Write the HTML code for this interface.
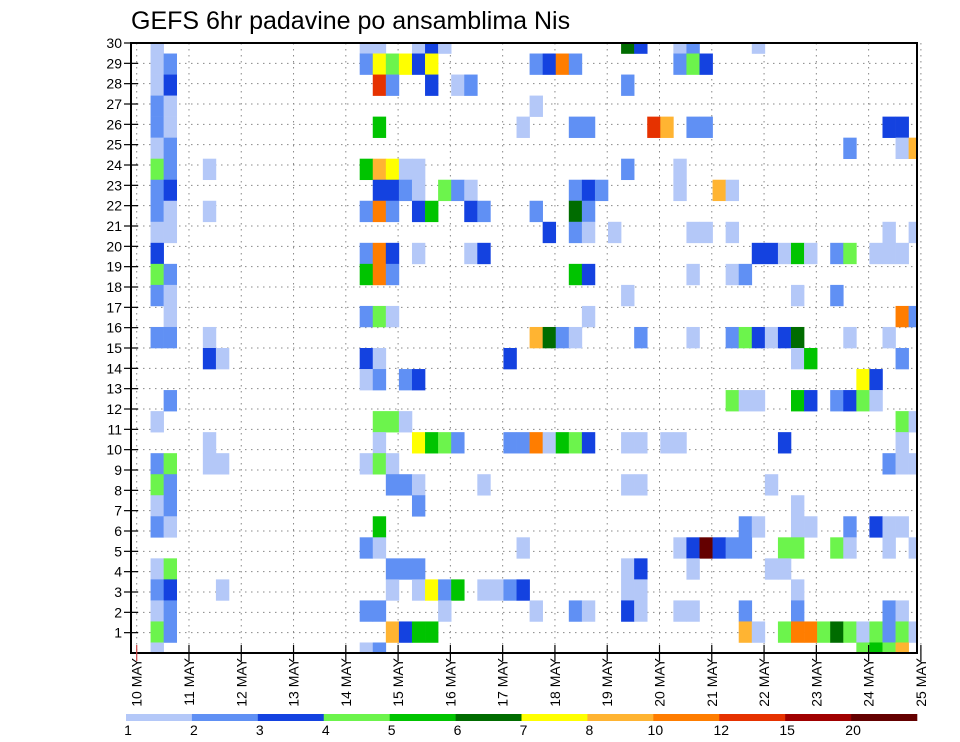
<!DOCTYPE html>
<html><head><meta charset="utf-8"><title>GEFS 6hr padavine po ansamblima Nis</title>
<style>
html,body{margin:0;padding:0;background:#fff;}
svg{display:block;font-family:"Liberation Sans","DejaVu Sans",sans-serif;}
</style></head>
<body>
<svg id="chart" width="960" height="742" viewBox="0 0 960 742" xmlns="http://www.w3.org/2000/svg">
  <defs><clipPath id="plotclip"><rect x="131" y="43" width="786" height="610"/></clipPath></defs>
  <rect x="0" y="0" width="960" height="742" fill="#fff"/>
  <text x="131" y="29" font-size="25" fill="#000">GEFS 6hr padavine po ansamblima Nis</text>
  <g id="grid"></g>
  <g id="cells" clip-path="url(#plotclip)"></g>
  <rect x="131" y="43" width="786" height="610" fill="none" stroke="#000" stroke-width="2"/>
  <g id="yaxis"></g>
  <g id="xaxis"></g>
  <g id="colorbar"></g>
</svg>
<script>
// ---- data ----
const dayLabels = ['10','11','12','13','14','15','16','17','18','19','20','21','22','23','24','25'];
const memberTicks = [1,2,3,4,5,6,7,8,9,10,11,12,13,14,15,16,17,18,19,20,21,22,23,24,25,26,27,28,29,30];
const levelBounds = [1,2,3,4,5,6,7,8,10,12,15,20];
const levelColors = ['#b4c8f8','#6090f4','#1442e0','#6cf44c','#00c400','#006c00','#ffff00','#ffb432','#ff7d00','#e63200','#a00000','#640000'];
// sparse cells: step index (6h from 10 MAY 00Z), member index, precip value (mm)
const cellStep = [
 1,17,18,21,22,23,37,38,41,42,47,
 1,2,17,18,19,20,21,22,30,31,32,33,41,42,43,
 1,2,18,19,22,24,25,37,
 1,2,30,
 1,2,18,29,33,34,39,40,42,43,57,58,
 1,2,54,58,59,
 1,2,5,17,18,19,20,21,37,41,
 1,2,18,19,20,21,23,24,25,33,34,35,41,44,45,
 1,2,5,17,18,19,21,22,25,26,30,33,34,
 1,2,31,33,34,36,42,43,45,57,59,
 1,17,18,19,21,25,26,47,48,49,50,51,53,54,56,57,58,
 1,2,17,18,19,33,34,42,45,46,
 1,2,37,50,53,
 2,17,18,19,34,58,59,
 1,2,5,30,31,32,33,38,42,45,46,47,48,49,50,54,57,
 5,6,17,18,28,50,51,58,
 17,18,20,21,55,56,
 2,45,46,47,50,51,53,54,55,56,
 1,18,19,20,58,59,
 5,18,21,22,23,24,28,29,30,31,32,33,34,37,38,40,41,49,58,
 1,2,5,6,17,18,19,57,58,59,
 1,2,19,20,21,26,37,38,48,
 1,2,21,50,
 1,2,18,46,47,50,51,54,56,57,58,
 17,18,29,41,42,43,44,45,46,49,50,53,54,57,59,
 1,2,19,20,21,37,38,42,48,49,
 1,2,6,19,21,22,23,24,26,27,28,29,37,38,50,
 1,2,17,18,23,30,33,34,37,38,41,42,46,50,57,58,
 1,2,19,20,21,22,46,47,49,50,51,52,53,54,55,56,57,58,59,
 1,17,18,55,56,57,58
];
const cellMember = [
 29,29,29,29,29,29,29,29,29,29,29,
 28,28,28,28,28,28,28,28,28,28,28,28,28,28,28,
 27,27,27,27,27,27,27,27,
 26,26,26,
 25,25,25,25,25,25,25,25,25,25,25,25,
 24,24,24,24,24,
 23,23,23,23,23,23,23,23,23,23,
 22,22,22,22,22,22,22,22,22,22,22,22,22,22,22,
 21,21,21,21,21,21,21,21,21,21,21,21,21,
 20,20,20,20,20,20,20,20,20,20,20,
 19,19,19,19,19,19,19,19,19,19,19,19,19,19,19,19,19,
 18,18,18,18,18,18,18,18,18,18,
 17,17,17,17,17,
 16,16,16,16,16,16,16,
 15,15,15,15,15,15,15,15,15,15,15,15,15,15,15,15,15,
 14,14,14,14,14,14,14,14,
 13,13,13,13,13,13,
 12,12,12,12,12,12,12,12,12,12,
 11,11,11,11,11,11,
 10,10,10,10,10,10,10,10,10,10,10,10,10,10,10,10,10,10,10,
 9,9,9,9,9,9,9,9,9,9,
 8,8,8,8,8,8,8,8,8,
 7,7,7,7,
 6,6,6,6,6,6,6,6,6,6,6,
 5,5,5,5,5,5,5,5,5,5,5,5,5,5,5,
 4,4,4,4,4,4,4,4,4,4,
 3,3,3,3,3,3,3,3,3,3,3,3,3,3,3,
 2,2,2,2,2,2,2,2,2,2,2,2,2,2,2,2,
 1,1,1,1,1,1,1,1,1,1,1,1,1,1,1,1,1,1,1,
 0,0,0,0,0,0,0
];
const cellValue = [
 1.5,1.5,1.5,1.5,3.5,1.5,6.5,3.5,1.5,2.5,1.5,
 1.5,2.5,2.5,7.5,4.5,7.5,3.5,7.5,2.5,3.5,11,2.5,2.5,4.5,3.5,
 1.5,3.5,13,2.5,3.5,1.5,2.5,2.5,
 2.5,1.5,1.5,
 2.5,1.5,5.5,1.5,2.5,2.5,13,9,2.5,2.5,3.5,3.5,
 1.5,2.5,2.5,1.5,9,
 4.5,2.5,1.5,5.5,9,7.5,1.5,1.5,2.5,1.5,
 2.5,3.5,3.5,3.5,2.5,1.5,4.5,2.5,1.5,2.5,3.5,2.5,1.5,9,1.5,
 2.5,1.5,1.5,2.5,11,2.5,3.5,5.5,3.5,2.5,2.5,6.5,2.5,
 1.5,1.5,3.5,2.5,1.5,1.5,1.5,1.5,1.5,1.5,1.5,
 3.5,2.5,11,3.5,1.5,1.5,3.5,3.5,3.5,1.5,5.5,1.5,2.5,4.5,1.5,1.5,1.5,
 4.5,2.5,5.5,11,2.5,5.5,3.5,1.5,1.5,2.5,
 2.5,1.5,1.5,1.5,2.5,
 1.5,2.5,4.5,1.5,1.5,11,2.5,
 2.5,2.5,1.5,9,6.5,2.5,1.5,2.5,1.5,2.5,4.5,3.5,1.5,3.5,6.5,1.5,1.5,
 3.5,1.5,3.5,1.5,3.5,1.5,5.5,2.5,
 1.5,2.5,2.5,3.5,7.5,3.5,
 2.5,4.5,1.5,1.5,5.5,3.5,2.5,3.5,4.5,1.5,
 1.5,4.5,4.5,1.5,4.5,1.5,
 1.5,1.5,7.5,5.5,4.5,2.5,2.5,2.5,11,1.5,5.5,4.5,3.5,1.5,1.5,1.5,1.5,3.5,1.5,
 2.5,4.5,1.5,1.5,1.5,4.5,1.5,2.5,1.5,1.5,
 4.5,2.5,2.5,2.5,1.5,1.5,1.5,1.5,1.5,
 1.5,2.5,2.5,1.5,
 2.5,1.5,5.5,2.5,1.5,1.5,1.5,2.5,3.5,1.5,1.5,
 2.5,1.5,1.5,1.5,3.5,25,3.5,2.5,2.5,4.5,4.5,4.5,1.5,1.5,1.5,
 1.5,4.5,2.5,2.5,2.5,1.5,3.5,1.5,1.5,1.5,
 2.5,3.5,1.5,1.5,1.5,7.5,2.5,5.5,1.5,1.5,2.5,3.5,1.5,1.5,1.5,
 1.5,2.5,2.5,2.5,1.5,1.5,2.5,1.5,3.5,1.5,1.5,1.5,2.5,2.5,2.5,1.5,
 4.5,2.5,9,3.5,5.5,5.5,9,1.5,4.5,11,11,4.5,6.5,4.5,1.5,4.5,2.5,4.5,1.5,
 1.5,1.5,2.5,4.5,5.5,4.5,9
];

// ---- scales ----
const X0 = 136.7, STEP_W = 13.07, DAY_W = STEP_W * 4;
function xStep(k){ return X0 + 0.8 + k * STEP_W; }
function xDay(d){ return X0 + d * DAY_W; }
const Y_BOTTOM = 653, MEMBER_H = 610 / 29, TICK_H = 610 / 30;
function yMember(j){ return Y_BOTTOM - j * MEMBER_H; }
function yTick(r){ return Y_BOTTOM - r * TICK_H; }
function colorFor(v){
  let idx = -1;
  for (let i = 0; i < levelBounds.length; i++) if (v >= levelBounds[i]) idx = i;
  return idx < 0 ? null : levelColors[idx];
}
const NS = 'http://www.w3.org/2000/svg';
function mk(tag, attrs, parent){
  const e = document.createElementNS(NS, tag);
  for (const k in attrs) e.setAttribute(k, attrs[k]);
  parent.appendChild(e); return e;
}

// ---- grid ----
const grid = document.getElementById('grid');
for (let r = 0; r <= 30; r++) {
  const gl = mk('line', {x1:131, x2:917, y1:yTick(r), y2:yTick(r), stroke:'#888', 'stroke-width':1, 'stroke-dasharray':'1.5 4.5'}, grid);
  
  
}
for (let d = 0; d < dayLabels.length; d++) {
  const gv = mk('line', {x1:xDay(d), x2:xDay(d), y1:43, y2:653, stroke:'#888', 'stroke-width':1, 'stroke-dasharray':'1.5 4.5'}, grid);
  
  
}

// ---- cells ----
const cells = document.getElementById('cells');
for (let i = 0; i < cellStep.length; i++) {
  const c = colorFor(cellValue[i]);
  if (!c) continue;
  const r = mk('rect', {x:xStep(cellStep[i]), y:yMember(cellMember[i]) - MEMBER_H/2, width:STEP_W + 0.3, height:MEMBER_H + 0.3, fill:c}, cells);
  
  
}

// ---- y axis ----
const ya = document.getElementById('yaxis');
memberTicks.forEach(function(m){
  const y = yTick(m);
  const tl = mk('line', {x1:124, x2:138, y1:y, y2:y, stroke:'#000', 'stroke-width':1.2}, ya);
  
  
  const t = mk('text', {x:122, y:y + 5, 'font-size':14, 'text-anchor':'end', fill:'#000'}, ya);
  t.textContent = String(m);
  
  
});

// ---- x axis ----
const xa = document.getElementById('xaxis');
dayLabels.forEach(function(lab, d){
  const x = xDay(d);
  const tl = mk('line', {x1:x, x2:x, y1:645, y2:661, stroke: d === 0 ? '#c44' : '#000', 'stroke-width':1.2}, xa);
  
  
  const t = mk('text', {x:0, y:0, 'font-size':14, 'text-anchor':'end', fill:'#000', transform:'translate(' + (x + 5) + ',658) rotate(-90)'}, xa);
  t.setAttribute('xml:space', 'preserve');
  t.textContent = lab + '  MAY';
  
  
});

// ---- color bar ----
const cb = document.getElementById('colorbar');
const CB_X = 126, CB_W = 791 / levelColors.length;
levelColors.forEach(function(col, i){
  const r = mk('rect', {x:CB_X + i * CB_W, y:714, width:CB_W + 0.3, height:7, fill:col}, cb);
  
  
});
levelBounds.forEach(function(b, i){
  const t = mk('text', {x:CB_X + i * CB_W + 2, y:735, 'font-size':14, 'text-anchor':'middle', fill:'#000'}, cb);
  t.textContent = String(b);
  
  
});
</script>
</body></html>
